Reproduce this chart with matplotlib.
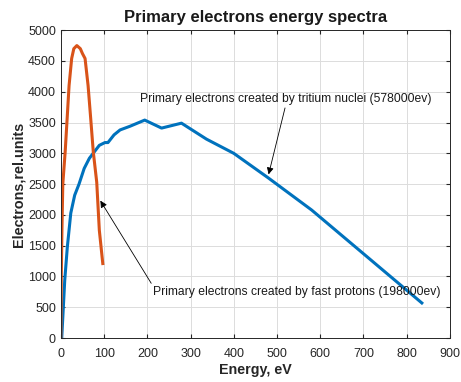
import matplotlib.pyplot as plt

# tritium nuclei spectrum (blue)
e_tritium = [2, 5, 9, 15, 23, 32, 42, 54, 66, 89, 102, 109, 123, 137, 160, 194, 233, 279, 337, 400, 480, 580, 835]
n_tritium = [0, 400, 940, 1480, 2030, 2320, 2500, 2755, 2920, 3130, 3175, 3175, 3300, 3380, 3440, 3540, 3410, 3490, 3230, 3000, 2600, 2080, 570]

# fast protons spectrum (orange)
e_protons = [0, 1, 2.5, 4.5, 10, 14.6, 19, 25, 30, 37, 45, 50, 56, 63, 69, 75, 83, 89, 97]
n_protons = [0, 1000, 1750, 2500, 3025, 3570, 4100, 4540, 4700, 4750, 4700, 4620, 4540, 4100, 3570, 3025, 2530, 1750, 1210]

plt.rcParams['font.family'] = ['Liberation Sans', 'DejaVu Sans']

fig = plt.figure(figsize=(4.61, 3.82), dpi=100)
ax = fig.add_axes([0.132, 0.115, 0.844, 0.806])

ax.plot(e_tritium, n_tritium, color='#0072BD', lw=2.2)
ax.plot(e_protons, n_protons, color='#D95319', lw=2.2)

ax.set_xlim(0, 900)
ax.set_ylim(0, 5000)
ax.set_xticks(range(0, 901, 100))
ax.set_yticks(range(0, 5001, 500))
ax.grid(True, color='#dcdcdc', lw=0.7)
ax.set_axisbelow(True)
ax.tick_params(direction='in', top=True, right=True, labelsize=9, colors='#262626', length=3)
ax.tick_params(axis='x', pad=7)
for s in ax.spines.values():
    s.set_color('#262626')
    s.set_linewidth(0.7)

ax.set_title('Primary electrons energy spectra', fontsize=12, fontweight='bold', color='#1a1a1a')
ax.set_xlabel('Energy, eV', fontsize=10.3, fontweight='bold', color='#262626', labelpad=2)
ax.set_ylabel('Electrons,rel.units', fontsize=10.4, fontweight='bold', color='#262626', labelpad=2)

ax.annotate('Primary electrons created by tritium nuclei (578000ev)',
            xy=(479, 2614), xytext=(183, 3880), fontsize=8.7, color='#1a1a1a',
            va='center', ha='left',
            arrowprops=dict(arrowstyle='-|>', color='black', lw=0.6, shrinkA=0,
                            relpos=(0.5, 0.0), mutation_scale=10))
ax.annotate('Primary electrons created by fast protons (198000ev)',
            xy=(88, 2270), xytext=(213, 747), fontsize=8.7, color='#1a1a1a',
            va='center', ha='left',
            arrowprops=dict(arrowstyle='-|>', color='black', lw=0.6, shrinkA=0,
                            relpos=(0.0, 1.0), mutation_scale=10))

fig.savefig('out.png', dpi=100)
